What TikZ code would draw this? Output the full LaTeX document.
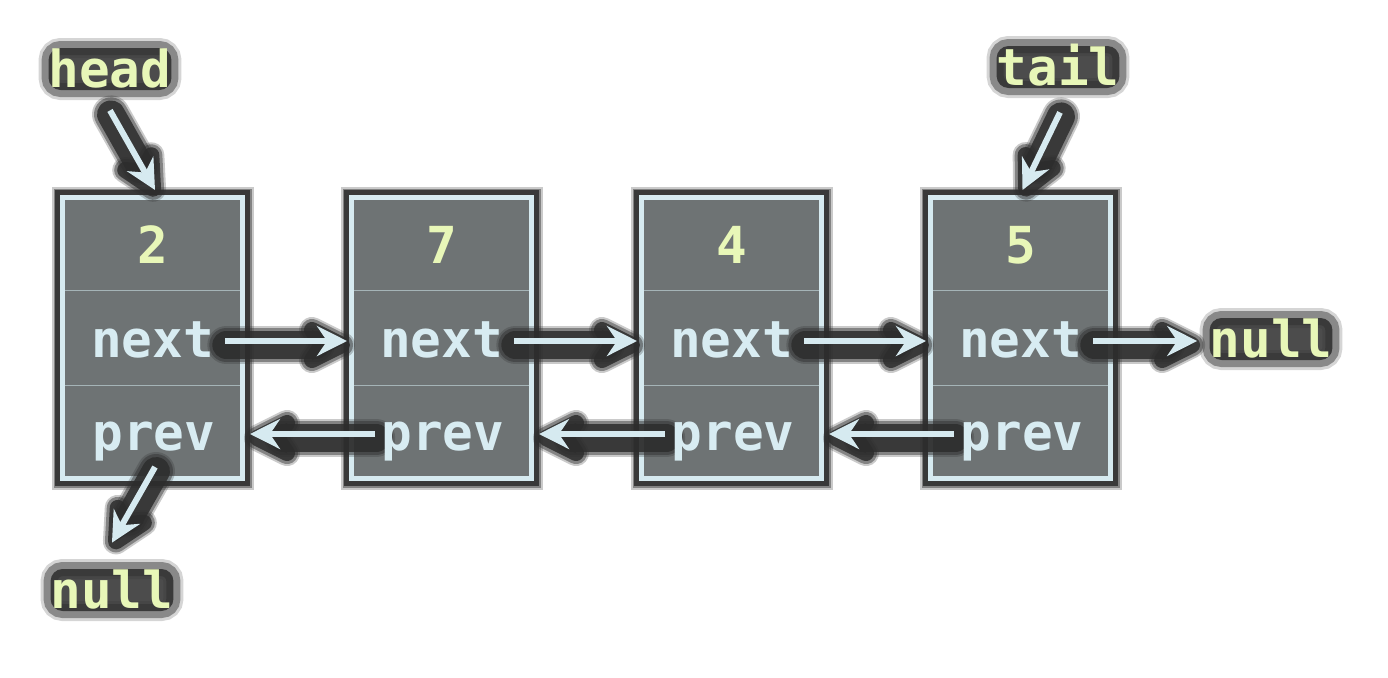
\documentclass[tikz,border=0pt]{standalone}
\usepackage{fontspec}
\newfontfamily\codefont{DejaVu Sans Mono}
\usetikzlibrary{arrows.meta,calc}
\definecolor{boxfill}{RGB}{110,115,116}
\definecolor{boxline}{RGB}{214,234,240}
\definecolor{sepc}{RGB}{165,180,183}
\definecolor{lbl}{RGB}{232,247,184}
\definecolor{fld}{RGB}{216,236,242}
\definecolor{shad}{RGB}{45,45,45}
\pgfdeclarelayer{ashadow}
\pgfdeclarelayer{arrowsL}
\pgfdeclarelayer{front}
\pgfsetlayers{main,ashadow,arrowsL,front}
% connector with a dark glow (shaft + arrowhead shadow)
\newcommand\connect[2]{%
  \coordinate (cs) at #1;
  \coordinate (ce) at #2;
  \coordinate (ca) at ($(ce)!3pt!(cs)$);
  \coordinate (cb) at ($(ce)!18pt!(cs)$);
  \coordinate (ci) at ($(ce)!13pt!(cs)$);
  \coordinate (cm) at ($(ce)!16pt!(cs)$);
  \coordinate (cl) at ($(cb)!7.5pt!90:(ce)$);
  \coordinate (cr) at ($(cb)!7.5pt!-90:(ce)$);
  \begin{pgfonlayer}{ashadow}
  \begin{scope}[transform canvas={shift={(0.5pt,-2pt)}}]
  \foreach \w/\t/\o in {19/13/0.25, 17/11/0.45, 14/8/0.85}{
    \draw[shad, opacity=\o, line width=\w pt, line cap=round] (cs) -- (cm);
    \filldraw[shad, opacity=\o, line width=\t pt, line join=round]
      (ca) -- (cl) -- (ci) -- (cr) -- cycle;
  }
  \end{scope}
  \end{pgfonlayer}
  \begin{pgfonlayer}{arrowsL}
  \draw[arr] (cs) -- (ce);
  \end{pgfonlayer}}
\begin{document}
\begin{tikzpicture}[x=0.5pt,y=-0.5pt,
  box/.style={draw=boxline, fill=boxfill, line width=2.5pt,
    minimum width=90pt, minimum height=140.5pt, inner sep=0pt,
    preaction={draw=shad, line width=11pt, opacity=0.25},
    preaction={draw=shad, line width=9pt, opacity=0.45},
    preaction={draw=shad, line width=7.5pt, opacity=0.85}},
  sep/.style={draw=sepc, line width=0.6pt, shorten <=2.5pt, shorten >=2.5pt},
  txt/.style={inner sep=0pt, anchor=base, text height=16pt, text depth=0pt,
    font=\codefont\bfseries\fontsize{25.5}{30}\selectfont},
  label/.style={txt, text=lbl, text height=19.5pt, text depth=1.5pt,
    inner xsep=0pt, inner ysep=0pt, rounded corners=6pt,
    preaction={draw=shad, line width=10pt, opacity=0.2},
    preaction={draw=shad, line width=7pt, opacity=0.45},
    preaction={fill=shad, opacity=0.85}},
  arr/.style={draw=boxline, line width=3pt,
    -{Stealth[length=15pt,width=15pt,inset=5pt]}}]
\useasboundingbox[fill=white] (0,0) rectangle (1388,677);

% boxes
\node[box] (b1) at (152.5,338) {};
\node[box] (b2) at (441.5,338) {};
\node[box] (b3) at (731.5,338) {};
\node[box] (b4) at (1020.5,338) {};
\foreach \i in {1,...,4}{
  \draw[sep] ($(b\i.north west)!1/3!(b\i.south west)$) -- ($(b\i.north east)!1/3!(b\i.south east)$);
  \draw[sep] ($(b\i.north west)!2/3!(b\i.south west)$) -- ($(b\i.north east)!2/3!(b\i.south east)$);
}

\begin{pgfonlayer}{front}
% values
\node[txt, text=lbl] (v1) at (152.5,263) {2};
\node[txt, text=lbl] (v2) at (441.5,263) {7};
\node[txt, text=lbl] (v3) at (731.5,263) {4};
\node[txt, text=lbl] (v4) at (1020.5,263) {5};
% fields
\node[txt, text=fld] (n1) at (152.5,357) {next};
\node[txt, text=fld] (n2) at (441.5,357) {next};
\node[txt, text=fld] (n3) at (731.5,357) {next};
\node[txt, text=fld] (n4) at (1020.5,357) {next};
\node[txt, text=fld] (p1) at (154,450) {prev};
\node[txt, text=fld] (p2) at (443,450) {prev};
\node[txt, text=fld] (p3) at (733,450) {prev};
\node[txt, text=fld] (p4) at (1022,450) {prev};
% labels
\node[label] (head) at (110,87) {head};
\node[label] (tail) at (1058,85) {tail};
\node[label] (nullr) at (1271,357) {null};
\node[label] (nullb) at (112,608) {null};
\end{pgfonlayer}

% next links
\connect{($(n1.east)+(11,0)$)}{($(b2.west |- n1.east)+(-2,0)$)}
\connect{($(n2.east)+(11,0)$)}{($(b3.west |- n2.east)+(-2,0)$)}
\connect{($(n3.east)+(11,0)$)}{($(b4.west |- n3.east)+(-2,0)$)}
\connect{($(n4.east)+(11,0)$)}{($(n4.east -| nullr.west)+(-12,0)$)}
% prev links
\connect{($(p2.west)+(-6,0)$)}{($(b1.east |- p2.west)+(5,0)$)}
\connect{($(p3.west)+(-6,0)$)}{($(b2.east |- p3.west)+(5,0)$)}
\connect{($(p4.west)+(-6,0)$)}{($(b3.east |- p4.west)+(5,0)$)}
% head / tail / null
\connect{($(head.south)+(0,20)$)}{($(b1.north)+(2.5,-5)$)}
\connect{($(tail.south)+(2,24)$)}{($(b4.north)+(2,-5)$)}
\connect{($(b1.south)+(2.5,-14)$)}{($(nullb.north)+(0,-26)$)}
\end{tikzpicture}
\end{document}
